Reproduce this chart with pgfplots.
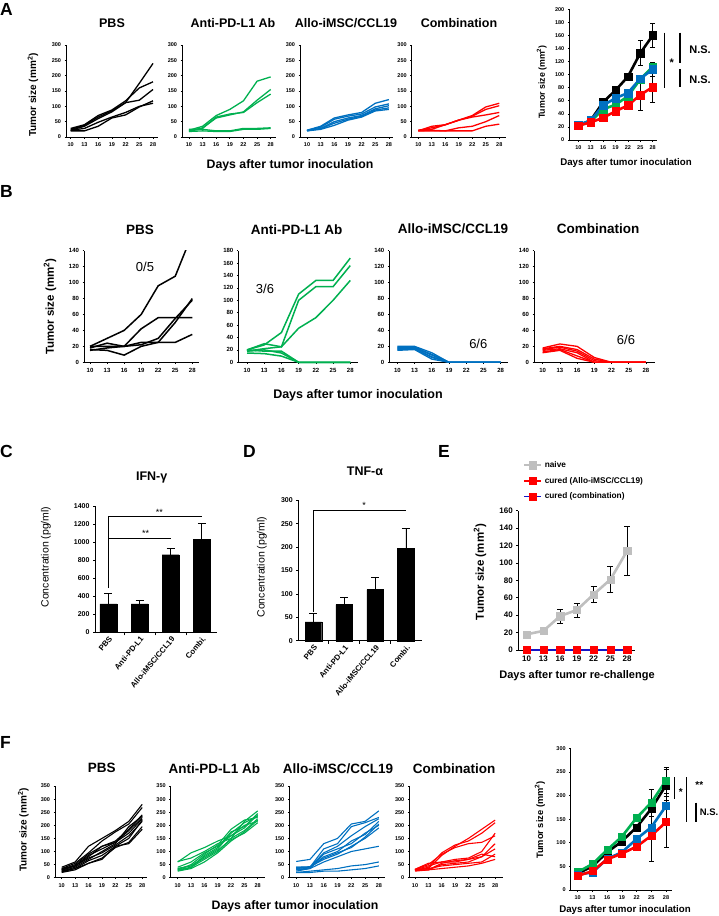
\documentclass[border=0pt]{standalone}
\usepackage{fontspec}
\setmainfont{Liberation Sans}
\usepackage{pgfplots}
\usepackage{pgfplotstable}
\pgfplotsset{compat=1.18}
\definecolor{xgreen}{RGB}{0,176,80}
\definecolor{xblue}{RGB}{0,112,192}
\definecolor{xred}{RGB}{255,0,0}
\definecolor{xgray}{RGB}{191,191,191}
\definecolor{xnavy}{RGB}{20,20,200}
\newcommand\fs[1]{\fontsize{#1}{#1}\selectfont}

% ---------- Panel A individual ----------
\pgfplotstableread{
d l1 l2 l3 l4 l5
10 25 28 22 20 22
13 38 40 35 20 28
16 65 70 60 35 48
19 85 88 82 62 65
22 112 118 112 72 80
25 175 160 120 98 100
28 240 180 155 118 110
}\tAp
\pgfplotstableread{
d l1 l2 l3 l4 l5
10 22 20 18 25 18
13 35 30 28 25 20
16 70 62 65 20 18
19 90 72 75 20 18
22 118 82 80 28 25
25 182 120 112 28 25
28 196 155 140 30 28
}\tAa
\pgfplotstableread{
d l1 l2 l3 l4 l5
10 22 22 20 21 20
13 35 32 28 27 25
16 62 58 50 45 38
19 72 68 62 58 55
22 80 75 70 68 65
25 110 98 92 88 85
28 122 108 102 95 90
}\tAl
\pgfplotstableread{
d l1 l2 l3 l4 l5
10 22 20 22 20 20
13 30 35 25 22 20
16 40 40 40 20 20
19 55 55 55 30 20
22 70 68 65 35 20
25 98 90 72 50 35
28 110 102 80 70 42
}\tAc
% ---------- Panel B ----------
\pgfplotstableread{
d l1 l2 l3 l4 l5
10 20 20 16 18 15
13 30 20 15 24 18
16 40 20 9 20 20
19 60 42 20 22 25
22 96 56 25 30 25
25 108 56 50 55 25
28 161 56 80 78 35
}\tBp
\pgfplotstableread{
d l1 l2 l3 l4 l5 l6
10 20 18 20 20 15 18
13 28 22 30 18 14 20
16 48 25 25 18 10 15
19 110 100 55 0 0 0
22 132 122 72 0 0 0
25 132 122 100 0 0 0
28 168 156 132 0 0 0
}\tBa
\pgfplotstableread{
d l1 l2 l3 l4 l5 l6
10 20 19 18 17 16 15
13 20 19 18 17 17 16
16 12 10 9 7 6 4
19 0 0 0 0 0 0
22 0 0 0 0 0 0
25 0 0 0 0 0 0
28 0 0 0 0 0 0
}\tBl
\pgfplotstableread{
d l1 l2 l3 l4 l5 l6
10 18 17 16 15 13 12
13 23 20 19 17 16 15
16 20 16 14 12 8 5
19 6 4 2 0 0 0
22 0 0 0 0 0 0
25 0 0 0 0 0 0
28 0 0 0 0 0 0
}\tBc
% ---------- Panel F individual ----------
\pgfplotstableread{
d l1 l2 l3 l4 l5 l6 l7 l8 l9 l10
10 40 35 30 25 28 22 20 25 30 35
13 60 55 45 40 45 35 30 35 50 45
16 120 95 80 70 85 65 55 55 90 75
19 150 140 120 100 110 85 75 70 120 95
22 180 175 140 130 135 120 115 120 135 125
25 215 205 185 195 180 150 135 130 170 160
28 280 268 240 235 230 220 195 185 225 215
}\tFp
\pgfplotstableread{
d l1 l2 l3 l4 l5 l6 l7 l8 l9
10 62 60 35 30 25 30 40 35 28
13 75 95 45 40 35 50 60 45 38
16 100 115 80 70 60 90 95 75 85
19 130 140 110 100 95 125 120 105 115
22 150 160 170 150 140 185 160 145 175
25 215 190 210 180 175 220 200 170 195
28 255 240 235 225 220 230 215 210 245
}\tFa
\pgfplotstableread{
d l1 l2 l3 l4 l5 l6 l7 l8 l9 l10
10 62 40 35 30 25 40 30 20 20 35
13 70 40 40 38 35 42 35 25 20 40
16 130 110 95 80 90 70 60 30 25 75
19 150 130 120 100 110 90 80 35 25 95
22 205 195 160 140 130 120 100 45 30 115
25 215 210 195 165 170 150 110 50 35 155
28 255 230 225 215 200 190 120 60 45 205
}\tFl
\pgfplotstableread{
d l1 l2 l3 l4 l5 l6 l7 l8 l9
10 30 28 30 32 30 25 30 28 32
13 35 40 45 50 30 30 35 30 55
16 85 95 60 90 55 50 45 35 60
19 120 125 70 115 65 55 50 40 60
22 150 140 75 130 70 60 55 45 70
25 185 170 100 135 80 80 60 55 90
28 220 210 170 160 130 110 90 70 80
}\tFc

\pgfplotsset{
  base/.style={scale only axis, anchor=south west, axis lines=left,
    axis line style={-, line width=1pt, black},
    tick align=outside, major tick length=2pt,
    tick style={black, line width=0.7pt},
    /pgf/number format/assume math mode=true,
    /pgf/number format/1000 sep={},
    ymin=0, clip=false},
  sm/.style={base, xtick={10,13,...,28}, tick label style={font=\fs{5.5}\bfseries}, major tick length=1.5pt,
    xticklabel style={yshift=-1pt}},
  ln/.style={line width=1.3pt, mark=none},
  sq/.style={line width=2.6pt, mark=square*, mark size=3.8pt, mark options={line width=0.3pt, fill=#1, draw=#1}, color=#1},
  eb/.style={draw=none, mark=none, forget plot,
    error bars/y dir=both, error bars/y explicit,
    error bars/error bar style={draw=black, line width=0.7pt},
    error bars/error mark options={rotate=90, mark size=#1, draw=black, line width=0.7pt}},
  eb/.default=2.5pt,
}

\begin{document}
\begin{tikzpicture}
\useasboundingbox (0,0) rectangle (719pt,-916pt);

% ===================== A =====================
\begin{axis}[sm, at={(66pt,-137pt)}, width=92pt, height=92pt, xmin=8.97, xmax=29.09, ymax=300, ytick={0,50,...,300}]
\pgfplotsinvokeforeach{1,...,5}{\addplot[ln, black] table[x=d, y=l#1]{\tAp};}
\end{axis}
\begin{axis}[sm, at={(182pt,-137pt)}, width=94pt, height=92pt, xmin=8.46, xmax=29.17, ymax=300, ytick={0,50,...,300}]
\pgfplotsinvokeforeach{1,...,5}{\addplot[ln, xgreen] table[x=d, y=l#1]{\tAa};}
\end{axis}
\begin{axis}[sm, at={(300pt,-137pt)}, width=93pt, height=92pt, xmin=8.46, xmax=28.9, ymax=300, ytick={0,50,...,300}]
\pgfplotsinvokeforeach{1,...,5}{\addplot[ln, xblue] table[x=d, y=l#1]{\tAl};}
\end{axis}
\begin{axis}[sm, at={(411.7pt,-137pt)}, width=94.3pt, height=92pt, xmin=8.53, xmax=29.5, ymax=300, ytick={0,50,...,300}]
\pgfplotsinvokeforeach{1,...,5}{\addplot[ln, xred] table[x=d, y=l#1]{\tAc};}
\end{axis}
% A summary
\begin{axis}[sm, at={(569.3pt,-140pt)}, width=87.4pt, height=130.7pt, xmin=7.82, xmax=28.97, ymax=200, ytick={0,20,...,200}]
\addplot[sq=black] coordinates {(10,22) (13,30) (16,58) (19,76) (22,97) (25,133) (28,160)};
\addplot[sq=xgreen] coordinates {(10,22) (13,28) (16,47) (19,54) (22,67) (25,93) (28,112)};
\addplot[sq=xblue] coordinates {(10,23) (13,30) (16,53) (19,64) (22,72) (25,94) (28,108)};
\addplot[sq=xred] coordinates {(10,22) (13,27) (16,34) (19,44) (22,53) (25,69) (28,81)};
\addplot[eb] coordinates {(25,133) +- (0,19) (28,160) +- (0,18) (25,69) +- (0,23) (28,81) +- (0,24) (28,108) +- (0,11)};
\end{axis}

% ===================== B =====================
\pgfplotsset{smb/.style={sm, tick label style={font=\fs{6}\bfseries}, height=111.6pt}}
\begin{axis}[smb, at={(84pt,-362.3pt)}, width=115pt, xmin=8.94, xmax=29.18, ymax=140, ytick={0,20,...,140}, clip=true]
\pgfplotsinvokeforeach{1,...,5}{\addplot[ln, black, line width=1.5pt] table[x=d, y=l#1]{\tBp};}
\end{axis}
\begin{axis}[smb, at={(238.3pt,-362.3pt)}, width=120pt, xmin=8.48, xmax=29.4, ymax=180, ytick={0,20,...,180}]
\pgfplotsinvokeforeach{1,...,6}{\addplot[ln, xgreen, line width=1.5pt] table[x=d, y=l#1]{\tBa};}
\end{axis}
\begin{axis}[smb, at={(389.3pt,-362.3pt)}, width=118.7pt, xmin=8.6, xmax=29.27, ymax=140, ytick={0,20,...,140}]
\pgfplotsinvokeforeach{1,...,6}{\addplot[ln, xblue, line width=1.3pt] table[x=d, y=l#1]{\tBl};}
\end{axis}
\begin{axis}[smb, at={(534pt,-362.3pt)}, width=121pt, xmin=8.49, xmax=29.57, ymax=140, ytick={0,20,...,140}]
\pgfplotsinvokeforeach{1,...,6}{\addplot[ln, xred, line width=1.3pt] table[x=d, y=l#1]{\tBc};}
\end{axis}

% ===================== C =====================
\pgfplotsset{bars/.style={base, tick label style={font=\fs{7}\bfseries},
   xtick={0,1,2,3}, xticklabels={PBS, Anti-PD-L1, Allo-iMSC/CCL19, Combi.},
   xticklabel style={rotate=50, anchor=north east, font=\fs{7.8}\bfseries, inner sep=1pt},
   major x tick style={draw=none}, minor x tick num=1, minor tick length=3pt,
   minor x tick style={black, line width=0.7pt}}}
\begin{axis}[bars, at={(95pt,-632.3pt)}, width=121.7pt, height=126.3pt, xmin=-0.43, xmax=3.48, ymax=1400, ytick={0,200,...,1400}]
\addplot[ybar, bar width=0.54, fill=black, draw=black,
  error bars/.cd, y dir=plus, y explicit, error bar style={black, line width=0.7pt},
  error mark options={rotate=90, mark size=4pt, black, line width=0.7pt}]
  coordinates {(0,315) +- (0,115) (1,315) +- (0,35) (2,860) +- (0,70) (3,1030) +- (0,175)};
\end{axis}
% ===================== D =====================
\begin{axis}[bars, at={(298.3pt,-640.7pt)}, width=123.4pt, height=140.4pt, xmin=-0.49, xmax=3.51, ymax=300, ytick={0,50,...,300}]
\addplot[ybar, bar width=0.54, fill=black, draw=black,
  error bars/.cd, y dir=plus, y explicit, error bar style={black, line width=0.7pt},
  error mark options={rotate=90, mark size=4pt, black, line width=0.7pt}]
  coordinates {(0,40) +- (0,18) (1,77) +- (0,15) (2,109) +- (0,26) (3,198) +- (0,42)};
\end{axis}

% ===================== E =====================
\begin{axis}[base, at={(518.3pt,-650pt)}, width=116.7pt, height=139.3pt, xmin=8.5, xmax=29.4, ymax=160,
   xtick={10,13,...,28}, ytick={0,20,...,160}, tick label style={font=\fs{8}\bfseries},
   legend style={at={(rel axis cs:0.04,1.37)}, anchor=north west, draw=none, fill=none,
     font=\fs{8.3}\bfseries, row sep=4.2pt, inner sep=0pt, nodes={inner sep=2pt}},
   legend cell align=left,
   legend image code/.code={\draw[mark repeat=2, mark phase=2, #1] plot coordinates {(0pt,0pt) (8.5pt,0pt) (17pt,0pt)};}]
\addplot[color=xgray, line width=2.6pt, mark=square*, mark size=3.6pt, mark options={line width=0.3pt, fill=xgray, draw=xgray}]
  coordinates {(10,18) (13,22) (16,39) (19,46) (22,64) (25,81) (28,114)};
\addlegendentry{naive}
\addplot[color=xred, line width=1.6pt, mark=square*, mark size=3.6pt, mark options={line width=0.3pt, fill=xred, draw=xred}]
  coordinates {(10,0) (13,0) (16,0) (19,0) (22,0) (25,0) (28,0)};
\addlegendentry{cured (Allo-iMSC/CCL19)}
\addplot[color=xnavy, line width=1.6pt, mark=square*, mark size=3.6pt, mark options={line width=0.3pt, fill=xred, draw=xred}]
  coordinates {(10,0) (13,0) (16,0) (19,0) (22,0) (25,0) (28,0)};
\addlegendentry{cured (combination)}
\addplot[eb=3pt]
  coordinates {(16,39) +- (0,8) (19,46) +- (0,8) (22,64) +- (0,9) (25,81) +- (0,15) (28,114) +- (0,28)};
\end{axis}

% ===================== F =====================
\begin{axis}[sm, at={(55pt,-877.7pt)}, width=91.7pt, height=91.7pt, xmin=8.5, xmax=29, ymax=350, ytick={0,50,...,350}]
\pgfplotsinvokeforeach{1,...,10}{\addplot[ln, black, line width=1.1pt] table[x=d, y=l#1]{\tFp};}
\end{axis}
\begin{axis}[sm, at={(170.7pt,-877.7pt)}, width=94.3pt, height=91.7pt, xmin=8.42, xmax=29.64, ymax=350, ytick={0,50,...,350}]
\pgfplotsinvokeforeach{1,...,9}{\addplot[ln, xgreen, line width=1.1pt] table[x=d, y=l#1]{\tFa};}
\end{axis}
\begin{axis}[sm, at={(289.3pt,-877.7pt)}, width=95.5pt, height=91.7pt, xmin=8.49, xmax=29.3, ymax=350, ytick={0,50,...,350}]
\pgfplotsinvokeforeach{1,...,10}{\addplot[ln, xblue, line width=1.1pt] table[x=d, y=l#1]{\tFl};}
\end{axis}
\begin{axis}[sm, at={(409.3pt,-877.7pt)}, width=93.4pt, height=91.7pt, xmin=8.72, xmax=29.7, ymax=350, ytick={0,50,...,350}]
\pgfplotsinvokeforeach{1,...,9}{\addplot[ln, xred, line width=1.1pt] table[x=d, y=l#1]{\tFc};}
\end{axis}
% F summary
\begin{axis}[sm, at={(570.7pt,-890pt)}, width=101.6pt, height=141.7pt, xmin=8.57, xmax=29.28, ymax=300, ytick={0,50,...,300}]
\addplot[sq=black, mark size=3.5pt] coordinates {(10,35) (13,50) (16,80) (19,103) (22,133) (25,172) (28,222)};
\addplot[sq=xgreen, mark size=3.5pt] coordinates {(10,38) (13,55) (16,85) (19,113) (22,153) (25,185) (28,232)};
\addplot[sq=xblue, mark size=3.5pt] coordinates {(10,33) (13,37) (16,66) (19,80) (22,108) (25,133) (28,178)};
\addplot[sq=xred, mark size=3.5pt] coordinates {(10,30) (13,40) (16,65) (19,77) (22,92) (25,115) (28,144)};
\addplot[eb] coordinates {(25,185) +- (0,28) (28,232) +- (0,28) (28,222) +- (0,33) (25,115) +- (0,55) (28,144) +- (0,54)};
\end{axis}

% ===================== annotations =====================
\begin{scope}[x=1pt, y=-1pt]
\foreach \L/\px/\py in {A/0/15, B/0/197, C/0/457, D/243/457, E/438/457, F/0/748}
  \node[anchor=base west, inner sep=0pt, font=\fs{17.5}\bfseries] at (\px,\py) {\L};
% A
\node[font=\fs{12.5}\bfseries] at (112,23) {PBS};
\node[font=\fs{12.5}\bfseries] at (233,23) {Anti-PD-L1 Ab};
\node[font=\fs{12.5}\bfseries] at (346,23) {Allo-iMSC/CCL19};
\node[font=\fs{12.5}\bfseries] at (459,23) {Combination};
\node[rotate=90, font=\fs{10}\bfseries] at (33,95) {Tumor size (mm\textsuperscript{2})};
\node[font=\fs{12.3}\bfseries] at (290,165) {Days after tumor inoculation};
\node[rotate=90, font=\fs{8.8}\bfseries] at (541.7,82) {Tumor size (mm\textsuperscript{2})};
\node[font=\fs{9.7}\bfseries] at (626,163) {Days after tumor inoculation};
\draw[line width=1.5pt] (664.3,32.7) -- (664.3,87.7);
\draw[line width=1.5pt] (680,32.7) -- (680,63.3);
\draw[line width=1.5pt] (680,69.3) -- (680,87.3);
\node[font=\fs{11}\bfseries] at (671.7,63) {*};
\node[font=\fs{11}\bfseries] at (700,49.3) {N.S.};
\node[font=\fs{11}\bfseries] at (700,79.3) {N.S.};
% B
\node[font=\fs{13.5}\bfseries] at (140,230) {PBS};
\node[font=\fs{13.5}\bfseries] at (296.7,230) {Anti-PD-L1 Ab};
\node[font=\fs{13.5}\bfseries] at (453,229) {Allo-iMSC/CCL19};
\node[font=\fs{13.5}\bfseries] at (598,229) {Combination};
\node[rotate=90, font=\fs{11.5}\bfseries] at (50,306.7) {Tumor size (mm\textsuperscript{2})};
\node[font=\fs{12.5}\bfseries] at (358,395) {Days after tumor inoculation};
\node[font=\fs{13}] at (145,267.3) {0/5};
\node[font=\fs{13}] at (265,289.3) {3/6};
\node[font=\fs{13}] at (478.3,344.3) {6/6};
\node[font=\fs{13}] at (626,340) {6/6};
% C
\node[font=\fs{12.5}\bfseries] at (151.7,477.7) {IFN-γ};
\node[rotate=90, font=\fs{10.5}] at (46,557) {Concentration (pg/ml)};
\draw[line width=0.8pt] (108.3,588) -- (108.3,516.7) -- (201.7,516.7);
\draw[line width=0.8pt] (108.3,538.3) -- (170.7,538.3);
\node[anchor=base, inner sep=0pt, font=\fs{9}] at (159.3,515) {**};
\node[anchor=base, inner sep=0pt, font=\fs{9}] at (145.7,536.6) {**};
% D
\node[font=\fs{12.5}\bfseries] at (365,471.7) {TNF-α};
\node[rotate=90, font=\fs{10.5}] at (262,567) {Concentration (pg/ml)};
\draw[line width=0.8pt] (313.3,611.7) -- (313.3,510) -- (406,510);
\node[anchor=base, inner sep=0pt, font=\fs{9}] at (364,508.5) {*};
% E
\node[rotate=90, font=\fs{11.5}\bfseries] at (480,572) {Tumor size (mm\textsuperscript{2})};
\node[font=\fs{11}\bfseries] at (577,676) {Days after tumor re-challenge};
% F
\node[font=\fs{13.5}\bfseries] at (101.7,768.3) {PBS};
\node[font=\fs{13.5}\bfseries] at (214.3,768.3) {Anti-PD-L1 Ab};
\node[font=\fs{13.5}\bfseries] at (338,768.3) {Allo-iMSC/CCL19};
\node[font=\fs{13.5}\bfseries] at (454,768.3) {Combination};
\node[rotate=90, font=\fs{10}\bfseries] at (23.3,830) {Tumor size (mm\textsuperscript{2})};
\node[font=\fs{12.3}\bfseries] at (295,906.7) {Days after tumor inoculation};
\node[rotate=90, font=\fs{9.3}\bfseries] at (540,820) {Tumor size (mm\textsuperscript{2})};
\node[font=\fs{9.7}\bfseries] at (625,910) {Days after tumor inoculation};
\draw[line width=1.5pt] (674.3,777.3) -- (674.3,799.3);
\draw[line width=1.5pt] (686.7,777.3) -- (686.7,821.7);
\draw[line width=1.5pt] (696,802.7) -- (696,821.7);
\node[font=\fs{10}\bfseries] at (680.7,792) {*};
\node[font=\fs{10}\bfseries] at (699.3,785) {**};
\node[font=\fs{9.5}\bfseries] at (709,812.3) {N.S.};
\end{scope}
\end{tikzpicture}
\end{document}
